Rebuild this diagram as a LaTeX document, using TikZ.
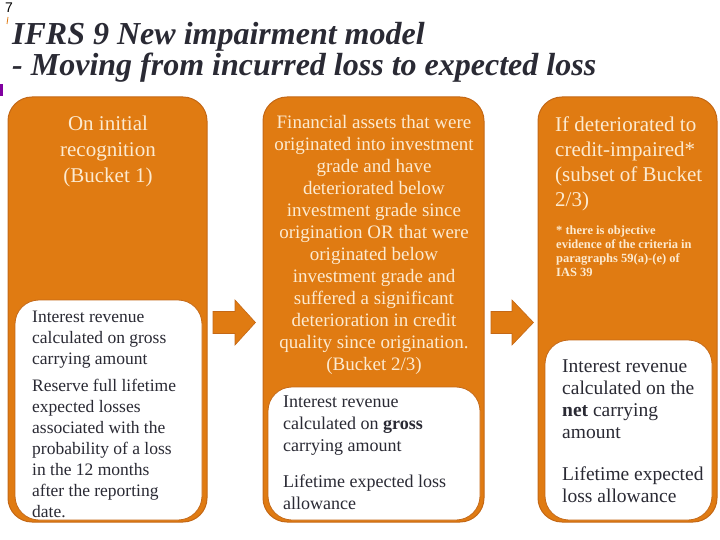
\documentclass[tikz,border=0pt]{standalone}
\usepackage{fontspec}
\setmainfont{Liberation Serif}
\newfontfamily\pagefont{Liberation Sans}
\usepackage{tikz}
\definecolor{pwcorange}{RGB}{224,123,18}
\definecolor{edgeorange}{RGB}{196,104,22}
\definecolor{creamtext}{RGB}{252,234,208}
\definecolor{darktext}{RGB}{42,42,52}
\definecolor{slidepurple}{RGB}{128,0,160}

\begin{document}
\begin{tikzpicture}[
    x=1pt, y=-1pt,
    bucket/.style={rectangle, rounded corners=24pt, fill=pwcorange, draw=edgeorange, line width=1pt, inner sep=0pt},
    effect/.style={rectangle, rounded corners=24pt, fill=white, draw=edgeorange, line width=0.8pt, inner sep=0pt},
    head/.style={text=creamtext, inner sep=0pt},
    body/.style={text=darktext, align=left, anchor=west, inner sep=0pt},
    move/.style={fill=pwcorange, draw=edgeorange, line width=0.6pt, line join=miter},
    heading/.style={text=darktext, font=\fontsize{32}{31}\selectfont\bfseries\itshape, inner sep=0pt, anchor=base west}
]
\useasboundingbox (0,0) rectangle (720,540);

% ============ slide header ============
\node[font=\pagefont\fontsize{14}{14}\selectfont, anchor=north west, inner sep=0pt] (page-no) at (5,3) {7};
\draw[pwcorange, line width=0.8pt] (8,17) -- (7,24);
\fill[slidepurple] (0,84) rectangle (3,96);
\node[heading] (title) at (12,45) {IFRS 9 New impairment model};
\node[heading] (subtitle) at (12,76) {- Moving from incurred loss to expected loss};

% ============ buckets ============
\node[bucket, minimum width=199pt, minimum height=425pt] (bucket-1) at (107.5,309.5) {};
\node[bucket, minimum width=221pt, minimum height=425pt] (bucket-2) at (373.5,309.5) {};
\node[bucket, minimum width=179pt, minimum height=425pt] (bucket-3) at (627.5,309.5) {};

\node[effect, minimum width=187pt, minimum height=220pt] (effect-1) at (108.5,410) {};
\node[effect, minimum width=212pt, minimum height=133pt] (effect-2) at (374,453.5) {};
\node[effect, minimum width=167pt, minimum height=180pt] (effect-3) at (628.5,430) {};

% block arrows between the buckets
\draw[move] (213,311.5) -- (235,311.5) -- (235,300) -- (255.5,322.5) -- (235,345) -- (235,333.5) -- (213,333.5) -- cycle;
\draw[move] (491,311.5) -- (512,311.5) -- (512,300) -- (533.5,322.5) -- (512,345) -- (512,333.5) -- (491,333.5) -- cycle;

% ============ (1) initial recognition ============
\node[head, align=center, font=\fontsize{21}{26}\selectfont] (head-1) at (108,151) {
    On initial\\
    recognition\\
    (Bucket 1)
};
\node[body, font=\fontsize{17.5}{21}\selectfont] (text-1) at (32,414.5) {
    Interest revenue\\
    calculated on gross\\
    carrying amount\\[6pt]
    Reserve full lifetime\\
    expected losses\\
    associated with the\\
    probability of a loss\\
    in the 12 months\\
    after the reporting\\
    date.
};

% ============ (2) deteriorated ============
\node[head, align=center, font=\fontsize{19}{22}\selectfont] (head-2) at (374,244.5) {
    Financial assets that were\\
    originated into investment\\
    grade and have\\
    deteriorated below\\
    investment grade since\\
    origination OR that were\\
    originated below\\
    investment grade and\\
    suffered a significant\\
    deterioration in credit\\
    quality since origination.\\
    (Bucket 2/3)
};
\node[body, font=\fontsize{18}{22}\selectfont] (text-2) at (283,453) {
    Interest revenue\\
    calculated on \textbf{gross}\\
    carrying amount\\[14pt]
    Lifetime expected loss\\
    allowance
};

% ============ (3) credit-impaired ============
\node[head, align=left, anchor=west, font=\fontsize{21}{25}\selectfont] (head-3) at (555,163.5) {
    If deteriorated to\\
    credit-impaired*\\
    (subset of Bucket\\
    2/3)
};
\node[head, align=left, anchor=west, font=\fontsize{12.5}{14}\selectfont\bfseries] (note-3) at (556,251) {
    * there is objective\\
    evidence of the criteria in\\
    paragraphs 59(a)-(e) of\\
    IAS 39
};
\node[body, font=\fontsize{19.5}{22}\selectfont] (text-3) at (562,431) {
    Interest revenue\\
    calculated on the\\
    \textbf{net} carrying\\
    amount\\[20pt]
    Lifetime expected\\
    loss allowance
};

\end{tikzpicture}
\end{document}
